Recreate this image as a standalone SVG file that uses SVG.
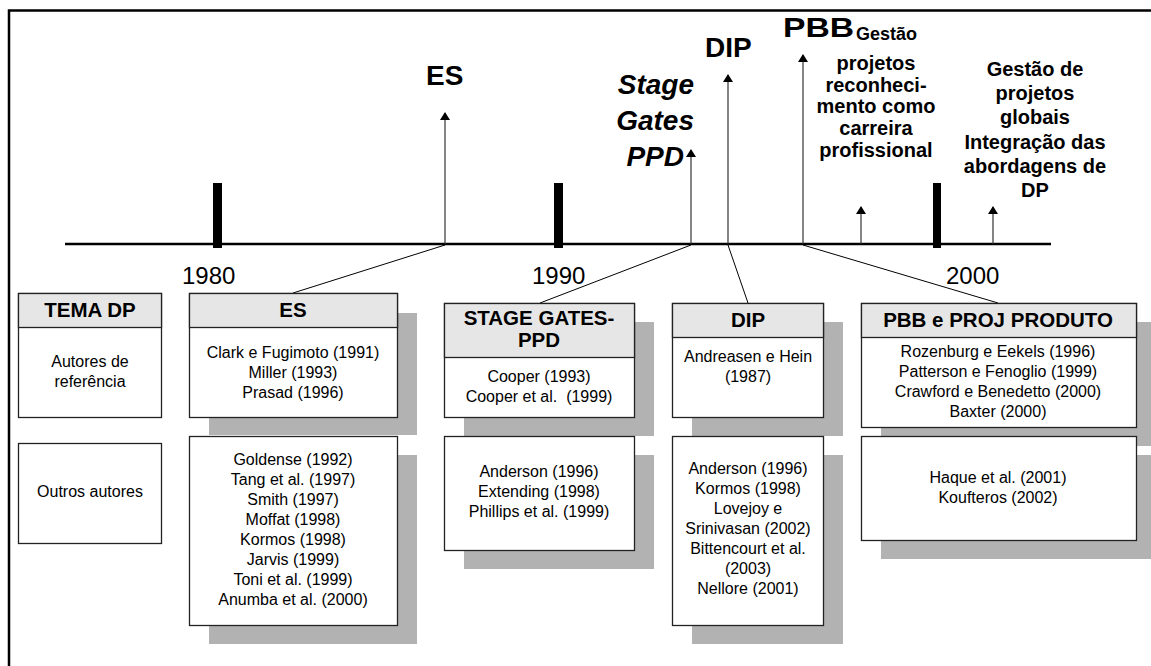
<svg xmlns="http://www.w3.org/2000/svg" width="1151" height="666" viewBox="0 0 1151 666">
  <style>
    .frame { fill: none; stroke: #000; stroke-width: 2.5; }
    .axis { stroke: #000; stroke-width: 2.5; }
    .tick { fill: #000; }
    .arrow { stroke: #333; stroke-width: 1.2; fill: none; marker-end: url(#head); }
    .link { stroke: #000; stroke-width: 1; fill: none; }
    .shadow { fill: #b2b2b2; }
    .box { fill: #fff; stroke: #222; stroke-width: 1.3; }
    .head { fill: #e6e6e6; stroke: #222; stroke-width: 1.3; }
    text { font-family: "Liberation Sans", Arial, sans-serif; fill: #000; }
    .year { font-size: 24px; }
    .era { font-size: 28px; font-weight: bold; }
    .note { font-size: 20px; font-weight: bold; text-anchor: middle; }
    .htxt { font-size: 20.5px; font-weight: bold; text-anchor: middle; }
    .btxt { font-size: 16px; text-anchor: middle; }
  </style>
  <defs>
    <marker id="head" viewBox="0 0 8 10" refX="7" refY="5" markerWidth="8" markerHeight="10" markerUnits="userSpaceOnUse" orient="auto">
      <path d="M0,0 L8,5 L0,10 z" fill="#000"/>
    </marker>
  </defs>

  <rect width="1151" height="666" fill="#fff"/>
  <!-- outer frame (top and left edges) -->
  <path class="frame" d="M9,666 V10.5 H1151"/>

  <!-- timeline -->
  <g id="timeline">
    <line class="axis" x1="65" y1="244" x2="1051" y2="244"/>
    <rect class="tick" x="213" y="183" width="9" height="65"/>
    <rect class="tick" x="554" y="183" width="9" height="65"/>
    <rect class="tick" x="933" y="183" width="8" height="65"/>
    <text class="year" x="182" y="284">1980</text>
    <text class="year" x="532" y="284">1990</text>
    <text class="year" x="946" y="284">2000</text>
  </g>

  <!-- era labels above the axis -->
  <g id="label-es"><text class="era" x="426" y="85">ES</text></g>
  <g id="label-stage">
    <text class="era" font-style="italic" text-anchor="end" x="694" y="94">Stage</text>
    <text class="era" font-style="italic" text-anchor="end" x="694" y="130">Gates</text>
    <text class="era" font-style="italic" text-anchor="end" x="684" y="166">PPD</text>
  </g>
  <g id="label-dip"><text class="era" x="705" y="57">DIP</text></g>
  <g id="label-pbb">
    <text class="era" x="783" y="37" textLength="71" lengthAdjust="spacingAndGlyphs">PBB</text>
    <text font-size="18" font-weight="bold" x="856" y="40">Gestão</text>
    <text class="note" x="876" y="70">projetos</text>
    <text class="note" x="876" y="91.5">reconheci-</text>
    <text class="note" x="876" y="113">mento como</text>
    <text class="note" x="876" y="135">carreira</text>
    <text class="note" x="876" y="157">profissional</text>
  </g>
  <g id="label-global">
    <text class="note" font-size="21" x="1035" y="76">Gestão de</text>
    <text class="note" font-size="21" x="1035" y="100">projetos</text>
    <text class="note" font-size="21" x="1035" y="124">globais</text>
    <text class="note" font-size="21" x="1035" y="149">Integração das</text>
    <text class="note" font-size="21" x="1035" y="173">abordagens de</text>
    <text class="note" font-size="21" x="1035" y="197">DP</text>
  </g>

  <!-- connectors: event arrows and links to the boxes -->
  <g id="connectors">
    <line class="arrow" x1="445" y1="244" x2="445" y2="113"/>
    <line class="arrow" x1="691" y1="244" x2="691" y2="150"/>
    <line class="arrow" x1="728" y1="244" x2="728" y2="75" stroke="#000"/>
    <line class="arrow" x1="803" y1="244" x2="803" y2="55"/>
    <line class="arrow" x1="861" y1="244" x2="861" y2="207" stroke="#000"/>
    <line class="arrow" x1="993" y1="244" x2="993" y2="207" stroke="#000"/>
    <line class="link" x1="445" y1="245" x2="293" y2="293"/>
    <line class="link" x1="691" y1="245" x2="540" y2="303"/>
    <line class="link" x1="728" y1="245" x2="748" y2="303"/>
    <line class="link" x1="803" y1="245" x2="998" y2="303"/>
  </g>

  <!-- row legend -->
  <g id="tema-dp">
    <rect class="box" x="18.5" y="293.5" width="143" height="124"/>
    <rect class="head" x="18.5" y="293.5" width="143" height="34"/>
    <text class="htxt" x="90" y="317">TEMA DP</text>
    <text class="btxt" x="90" y="367">Autores de</text>
    <text class="btxt" x="90" y="387">referência</text>
  </g>
  <g id="outros-autores">
    <rect class="box" x="18.5" y="443.5" width="143" height="100"/>
    <text class="btxt" x="90" y="497">Outros autores</text>
  </g>

  <!-- ES -->
  <g id="es-ref">
    <rect class="shadow" x="209" y="313" width="208" height="122"/>
    <rect class="box" x="189.5" y="293.5" width="208" height="124"/>
    <rect class="head" x="189.5" y="293.5" width="208" height="34"/>
    <text class="htxt" x="293" y="317">ES</text>
    <text class="btxt" x="293" y="358">Clark e Fugimoto (1991)</text>
    <text class="btxt" x="293" y="378">Miller (1993)</text>
    <text class="btxt" x="293" y="398">Prasad (1996)</text>
  </g>
  <g id="es-others">
    <rect class="shadow" x="209" y="455" width="208" height="189"/>
    <rect class="box" x="189.5" y="436.5" width="208" height="189"/>
    <text class="btxt" x="293" y="465">Goldense (1992)</text>
    <text class="btxt" x="293" y="485">Tang et al. (1997)</text>
    <text class="btxt" x="293" y="505">Smith (1997)</text>
    <text class="btxt" x="293" y="525">Moffat (1998)</text>
    <text class="btxt" x="293" y="545">Kormos (1998)</text>
    <text class="btxt" x="293" y="565">Jarvis (1999)</text>
    <text class="btxt" x="293" y="585">Toni et al. (1999)</text>
    <text class="btxt" x="293" y="605">Anumba et al. (2000)</text>
  </g>

  <!-- STAGE GATES-PPD -->
  <g id="stage-ref">
    <rect class="shadow" x="464" y="322" width="190" height="114"/>
    <rect class="box" x="444.5" y="303.5" width="190" height="114"/>
    <rect class="head" x="444.5" y="303.5" width="190" height="54"/>
    <text class="htxt" font-size="19" x="539" y="325">STAGE GATES-</text>
    <text class="htxt" font-size="19" x="539" y="347">PPD</text>
    <text class="btxt" x="539" y="382">Cooper (1993)</text>
    <text class="btxt" x="539" y="402" xml:space="preserve">Cooper et al.  (1999)</text>
  </g>
  <g id="stage-others">
    <rect class="shadow" x="464" y="455" width="190" height="114"/>
    <rect class="box" x="444.5" y="436.5" width="190" height="114"/>
    <text class="btxt" x="539" y="477">Anderson (1996)</text>
    <text class="btxt" x="539" y="497">Extending (1998)</text>
    <text class="btxt" x="539" y="517">Phillips et al. (1999)</text>
  </g>

  <!-- DIP -->
  <g id="dip-ref">
    <rect class="shadow" x="692" y="322" width="151" height="114"/>
    <rect class="box" x="672.5" y="303.5" width="151" height="114"/>
    <rect class="head" x="672.5" y="303.5" width="151" height="34"/>
    <text class="htxt" x="748" y="327">DIP</text>
    <text class="btxt" x="748" y="362">Andreasen e Hein</text>
    <text class="btxt" x="748" y="382">(1987)</text>
  </g>
  <g id="dip-others">
    <rect class="shadow" x="692" y="455" width="151" height="189"/>
    <rect class="box" x="672.5" y="436.5" width="151" height="189"/>
    <text class="btxt" x="748" y="474">Anderson (1996)</text>
    <text class="btxt" x="748" y="494">Kormos (1998)</text>
    <text class="btxt" x="748" y="514">Lovejoy e</text>
    <text class="btxt" x="748" y="534">Srinivasan (2002)</text>
    <text class="btxt" x="748" y="554">Bittencourt et al.</text>
    <text class="btxt" x="748" y="574">(2003)</text>
    <text class="btxt" x="748" y="594">Nellore (2001)</text>
  </g>

  <!-- PBB e PROJ PRODUTO -->
  <g id="pbb-ref">
    <rect class="shadow" x="881" y="322" width="275" height="124"/>
    <rect class="box" x="861.5" y="303.5" width="275" height="124"/>
    <rect class="head" x="861.5" y="303.5" width="275" height="34"/>
    <text class="htxt" x="998" y="327">PBB e PROJ PRODUTO</text>
    <text class="btxt" x="998" y="357">Rozenburg e Eekels (1996)</text>
    <text class="btxt" x="998" y="377">Patterson e Fenoglio (1999)</text>
    <text class="btxt" x="998" y="397">Crawford e Benedetto (2000)</text>
    <text class="btxt" x="998" y="417">Baxter (2000)</text>
  </g>
  <g id="pbb-others">
    <rect class="shadow" x="881" y="455" width="275" height="104"/>
    <rect class="box" x="861.5" y="436.5" width="275" height="104"/>
    <text class="btxt" x="998" y="483">Haque et al. (2001)</text>
    <text class="btxt" x="998" y="503">Koufteros (2002)</text>
  </g>
</svg>
